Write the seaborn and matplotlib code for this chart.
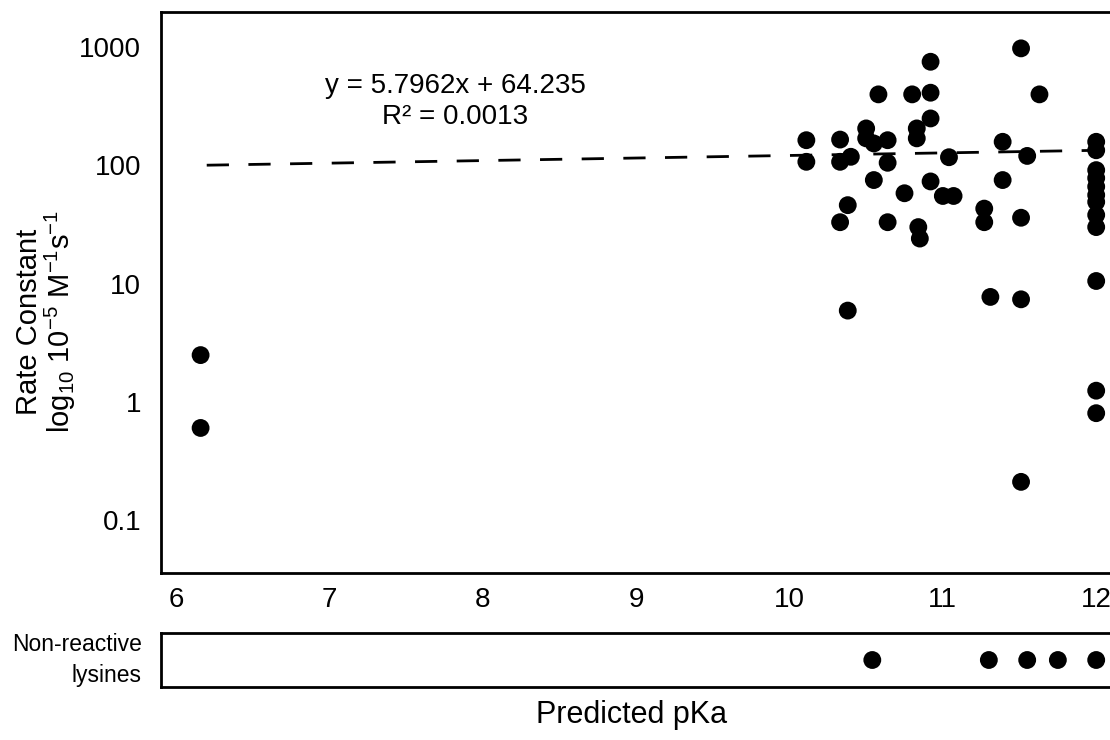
import matplotlib
matplotlib.use("Agg")
import matplotlib.pyplot as plt
import seaborn as sns
import numpy as np
import pandas as pd
from matplotlib.ticker import NullLocator

# reactive lysines: predicted pKa vs rate constant (10^-5 M^-1 s^-1)
pka = [6.16, 6.16,
       10.11, 10.11, 10.33, 10.33, 10.38, 10.33, 10.38, 10.40,
       10.50, 10.50, 10.55, 10.58, 10.55, 10.64, 10.64, 10.64,
       10.80, 10.83, 10.83, 10.75, 10.84, 10.85,
       10.92, 10.92, 10.92, 10.92, 11.04, 11.00, 11.07,
       11.27, 11.27, 11.31, 11.39, 11.39,
       11.51, 11.51, 11.51, 11.55, 11.63, 11.51,
       12.0, 12.0, 12.0, 12.0, 12.0, 12.0, 12.0, 12.0, 12.0, 12.0, 12.0, 12.0]
rate = [2.48, 0.60,
        163, 107, 165, 107, 46, 33, 5.9, 118,
        205, 169, 153, 398, 75, 163, 105, 33,
        398, 205, 169, 58, 30, 24,
        751, 411, 249, 73, 117, 55, 55,
        43, 33, 7.7, 158, 75,
        975, 36, 7.35, 120, 398, 0.21,
        158, 134, 91, 78, 66, 56, 49, 38, 30, 10.5, 1.24, 0.80]

# non-reactive lysines (pKa only)
pka_nonreactive = [10.54, 11.30, 11.55, 11.75, 12.0]

# linear trendline reported on the chart
slope = 5.7962
intercept = 64.235
fit_x = [6.2, 12.0]

yticks = [0.1, 1, 10, 100, 1000]
ytick_labels = ["0.1", "1", "10", "100", "1000"]
xticks = [6, 7, 8, 9, 10, 11, 12]

sns.set_style("white")
plt.rcParams['font.family'] = ['Liberation Sans', 'DejaVu Sans']
plt.rcParams['mathtext.fontset'] = 'custom'
plt.rcParams['mathtext.rm'] = 'Liberation Sans'
plt.rcParams['mathtext.it'] = 'Liberation Sans:italic'
plt.rcParams['text.color'] = 'black'
plt.rcParams['axes.labelcolor'] = 'black'
plt.rcParams['xtick.color'] = 'black'
plt.rcParams['ytick.color'] = 'black'

df = pd.DataFrame({"pka": pka, "rate": rate})
df_fit = pd.DataFrame({"pka": fit_x, "rate": [slope * v + intercept for v in fit_x]})
df_non = pd.DataFrame({"pka": pka_nonreactive, "y": [0.5] * len(pka_nonreactive)})

fig = plt.figure(figsize=(11.1, 7.4), dpi=100)
ax = fig.add_axes([0.1448, 0.2257, 0.8552, 0.7581])
ax2 = fig.add_axes([0.1448, 0.0716, 0.8552, 0.073])

ax.set_yscale("log")
sns.lineplot(data=df_fit, x="pka", y="rate", ax=ax, color="black", lw=2,
             dashes=False, zorder=1)
ax.lines[0].set_dashes((8, 7))
sns.scatterplot(data=df, x="pka", y="rate", ax=ax, color="black", s=165,
                edgecolor="none", zorder=2)

ax.set_xlim(5.9, 12.09)
ax.set_ylim(0.0356, 1980)
ax.set_xticks(xticks)
ax.set_xticklabels([str(t) for t in xticks])
ax.set_yticks(yticks)
ax.set_yticklabels(ytick_labels)
ax.yaxis.set_minor_locator(NullLocator())
ax.tick_params(axis="both", length=0, labelsize=20, colors="black")
ax.tick_params(axis="x", pad=10)
ax.tick_params(axis="y", pad=14)
ax.set_xlabel("")
ax.set_ylabel("")
ax.text(0.31, 0.84, "y = 5.7962x + 64.235\nR\u00b2 = 0.0013", transform=ax.transAxes,
        ha="center", va="center", fontsize=20, linespacing=1.25)
for side in ["top", "left", "bottom"]:
    ax.spines[side].set_color("black")
    ax.spines[side].set_linewidth(2)
ax.spines["right"].set_visible(False)

# two-line y label
fig.text(0.026, 0.565, "Rate Constant", rotation=90, ha="center", va="center", fontsize=21)
fig.text(0.054, 0.565,
         r"log$_{\mathrm{10}}$ 10$^{\mathrm{-5}}$ M$^{\mathrm{-1}}$s$^{\mathrm{-1}}$",
         rotation=90, ha="center", va="center", fontsize=21)

sns.scatterplot(data=df_non, x="pka", y="y", ax=ax2, color="black", s=165,
                edgecolor="none")
ax2.set_xlim(5.9, 12.09)
ax2.set_ylim(0, 1)
ax2.set_xticks([])
ax2.set_yticks([])
ax2.set_xlabel("")
ax2.set_ylabel("")
for side in ["top", "left", "bottom"]:
    ax2.spines[side].set_color("black")
    ax2.spines[side].set_linewidth(2)
ax2.spines["right"].set_visible(False)
ax2.text(-0.02, 0.5, "Non-reactive\nlysines", transform=ax2.transAxes, ha="right",
         va="center", fontsize=16.5, linespacing=1.4)

fig.text(0.569, 0.034, "Predicted pKa", ha="center", va="center", fontsize=22)

fig.savefig("out.png", dpi=100)
